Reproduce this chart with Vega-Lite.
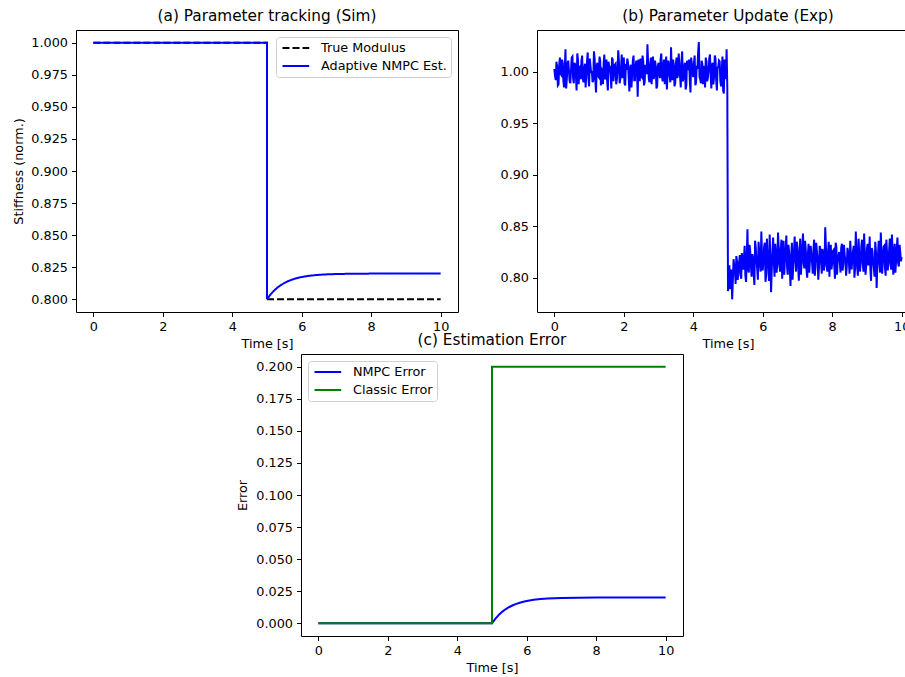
{
  "$schema": "https://vega.github.io/schema/vega-lite/v6.json",
  "background": "white",
  "padding": {"left": 12, "top": 8, "right": 0, "bottom": 0},
  "config": {
    "font": "DejaVu Sans",
    "view": {"stroke": "black", "strokeWidth": 1},
    "title": {"font": "DejaVu Sans", "fontSize": 15.3, "fontWeight": "normal", "color": "black", "offset": 6, "anchor": "middle"},
    "axis": {"domain": false, "grid": false, "ticks": true, "tickColor": "black", "tickSize": 4.5, "tickWidth": 1, "labelFont": "DejaVu Sans", "labelFontSize": 12.8, "labelColor": "black", "labelPadding": 3.5, "labelFlush": false, "labelOverlap": false, "titleFont": "DejaVu Sans", "titleFontSize": 12.8, "titleFontWeight": "normal", "titleColor": "black", "titlePadding": 5},
    "axisY": {"labelPadding": 4, "titlePadding": 5},
    "legend": {"fillColor": "white", "strokeColor": "#d0d0d0", "cornerRadius": 3, "padding": 4, "offset": 7, "labelFont": "DejaVu Sans", "labelFontSize": 12.8, "labelColor": "black", "symbolType": "M-0.75,0H3.7", "symbolSize": 144, "symbolStrokeWidth": 2, "rowPadding": 4, "labelOffset": 27}
  },
  "datasets": {
    "a": [
      {"s": "True Modulus", "o": 0, "t": 0, "v": 1.0},
      {"s": "True Modulus", "o": 1, "t": 5, "v": 1.0},
      {"s": "True Modulus", "o": 2, "t": 5, "v": 0.8},
      {"s": "True Modulus", "o": 3, "t": 10, "v": 0.8},
      {"s": "Adaptive NMPC Est.", "o": 0, "t": 0, "v": 1.0},
      {"s": "Adaptive NMPC Est.", "o": 1, "t": 5, "v": 1.0},
      {"s": "Adaptive NMPC Est.", "o": 2, "t": 5, "v": 0.8},
      {"s": "Adaptive NMPC Est.", "o": 3, "t": 5.1, "v": 0.80363},
      {"s": "Adaptive NMPC Est.", "o": 4, "t": 5.2, "v": 0.80659},
      {"s": "Adaptive NMPC Est.", "o": 5, "t": 5.3, "v": 0.80902},
      {"s": "Adaptive NMPC Est.", "o": 6, "t": 5.4, "v": 0.81101},
      {"s": "Adaptive NMPC Est.", "o": 7, "t": 5.5, "v": 0.81264},
      {"s": "Adaptive NMPC Est.", "o": 8, "t": 5.6, "v": 0.81398},
      {"s": "Adaptive NMPC Est.", "o": 9, "t": 5.7, "v": 0.81507},
      {"s": "Adaptive NMPC Est.", "o": 10, "t": 5.8, "v": 0.81596},
      {"s": "Adaptive NMPC Est.", "o": 11, "t": 5.9, "v": 0.81669},
      {"s": "Adaptive NMPC Est.", "o": 12, "t": 6.0, "v": 0.81729},
      {"s": "Adaptive NMPC Est.", "o": 13, "t": 6.2, "v": 0.81819},
      {"s": "Adaptive NMPC Est.", "o": 14, "t": 6.4, "v": 0.81878},
      {"s": "Adaptive NMPC Est.", "o": 15, "t": 6.6, "v": 0.81918},
      {"s": "Adaptive NMPC Est.", "o": 16, "t": 6.8, "v": 0.81945},
      {"s": "Adaptive NMPC Est.", "o": 17, "t": 7.0, "v": 0.81963},
      {"s": "Adaptive NMPC Est.", "o": 18, "t": 7.5, "v": 0.81987},
      {"s": "Adaptive NMPC Est.", "o": 19, "t": 8, "v": 0.81995},
      {"s": "Adaptive NMPC Est.", "o": 20, "t": 9, "v": 0.81999},
      {"s": "Adaptive NMPC Est.", "o": 21, "t": 10, "v": 0.82}
    ],
    "c": [
      {"s": "NMPC Error", "o": 0, "t": 0, "v": 0},
      {"s": "NMPC Error", "o": 1, "t": 5, "v": 0},
      {"s": "NMPC Error", "o": 2, "t": 5.1, "v": 0.00363},
      {"s": "NMPC Error", "o": 3, "t": 5.2, "v": 0.00659},
      {"s": "NMPC Error", "o": 4, "t": 5.3, "v": 0.00902},
      {"s": "NMPC Error", "o": 5, "t": 5.4, "v": 0.01101},
      {"s": "NMPC Error", "o": 6, "t": 5.5, "v": 0.01264},
      {"s": "NMPC Error", "o": 7, "t": 5.6, "v": 0.01398},
      {"s": "NMPC Error", "o": 8, "t": 5.7, "v": 0.01507},
      {"s": "NMPC Error", "o": 9, "t": 5.8, "v": 0.01596},
      {"s": "NMPC Error", "o": 10, "t": 5.9, "v": 0.01669},
      {"s": "NMPC Error", "o": 11, "t": 6.0, "v": 0.01729},
      {"s": "NMPC Error", "o": 12, "t": 6.2, "v": 0.01819},
      {"s": "NMPC Error", "o": 13, "t": 6.4, "v": 0.01878},
      {"s": "NMPC Error", "o": 14, "t": 6.6, "v": 0.01918},
      {"s": "NMPC Error", "o": 15, "t": 6.8, "v": 0.01945},
      {"s": "NMPC Error", "o": 16, "t": 7.0, "v": 0.01963},
      {"s": "NMPC Error", "o": 17, "t": 7.5, "v": 0.01987},
      {"s": "NMPC Error", "o": 18, "t": 8, "v": 0.01995},
      {"s": "NMPC Error", "o": 19, "t": 9, "v": 0.01999},
      {"s": "NMPC Error", "o": 20, "t": 10, "v": 0.02},
      {"s": "Classic Error", "o": 0, "t": 0, "v": 0},
      {"s": "Classic Error", "o": 1, "t": 5, "v": 0},
      {"s": "Classic Error", "o": 2, "t": 5, "v": 0.2},
      {"s": "Classic Error", "o": 3, "t": 10, "v": 0.2}
    ],
    "b": [
      {"t":0,"v":1.003},{"t":0.04,"v":0.992},{"t":0.08,"v":1.005},{"t":0.12,"v":0.988},{"t":0.16,"v":1.014},
      {"t":0.2,"v":0.997},{"t":0.24,"v":1.009},{"t":0.28,"v":0.985},{"t":0.32,"v":1.022},{"t":0.36,"v":0.994},
      {"t":0.4,"v":1.011},{"t":0.44,"v":0.991},{"t":0.48,"v":1.002},{"t":0.52,"v":1.015},{"t":0.56,"v":0.989},
      {"t":0.6,"v":1.007},{"t":0.64,"v":0.982},{"t":0.68,"v":1.012},{"t":0.72,"v":1.004},{"t":0.76,"v":0.993},
      {"t":0.8,"v":1.016},{"t":0.84,"v":0.990},{"t":0.88,"v":1.008},{"t":0.92,"v":0.998},{"t":0.96,"v":1.019},
      {"t":1.0,"v":0.986},{"t":1.04,"v":1.006},{"t":1.08,"v":1.001},{"t":1.12,"v":0.992},{"t":1.16,"v":1.013},
      {"t":1.2,"v":0.980},{"t":1.24,"v":1.009},{"t":1.28,"v":0.995},{"t":1.32,"v":1.011},{"t":1.36,"v":1.003},
      {"t":1.4,"v":0.988},{"t":1.44,"v":1.017},{"t":1.48,"v":0.996},{"t":1.52,"v":0.991},{"t":1.56,"v":1.010},
      {"t":1.6,"v":1.005},{"t":1.64,"v":0.984},{"t":1.68,"v":1.012},{"t":1.72,"v":0.999},{"t":1.76,"v":1.008},
      {"t":1.8,"v":0.993},{"t":1.84,"v":1.021},{"t":1.88,"v":0.989},{"t":1.92,"v":1.004},{"t":1.96,"v":0.994},
      {"t":2.0,"v":1.014},{"t":2.04,"v":0.987},{"t":2.08,"v":1.002},{"t":2.12,"v":1.009},{"t":2.16,"v":0.981},
      {"t":2.2,"v":1.007},{"t":2.24,"v":0.997},{"t":2.28,"v":1.016},{"t":2.32,"v":0.992},{"t":2.36,"v":1.011},
      {"t":2.4,"v":0.976},{"t":2.44,"v":1.006},{"t":2.48,"v":1.013},{"t":2.52,"v":0.995},{"t":2.56,"v":1.010},
      {"t":2.6,"v":0.990},{"t":2.64,"v":1.003},{"t":2.68,"v":1.027},{"t":2.72,"v":0.993},{"t":2.76,"v":1.008},
      {"t":2.8,"v":0.988},{"t":2.84,"v":1.015},{"t":2.88,"v":0.998},{"t":2.92,"v":1.005},{"t":2.96,"v":0.986},
      {"t":3.0,"v":1.009},{"t":3.04,"v":0.994},{"t":3.08,"v":1.018},{"t":3.12,"v":0.991},{"t":3.16,"v":1.012},
      {"t":3.2,"v":1.001},{"t":3.24,"v":0.983},{"t":3.28,"v":1.011},{"t":3.32,"v":0.996},{"t":3.36,"v":1.024},
      {"t":3.4,"v":0.992},{"t":3.44,"v":1.006},{"t":3.48,"v":0.989},{"t":3.52,"v":1.014},{"t":3.56,"v":0.997},
      {"t":3.6,"v":1.007},{"t":3.64,"v":0.985},{"t":3.68,"v":1.020},{"t":3.72,"v":0.994},{"t":3.76,"v":1.009},
      {"t":3.8,"v":0.987},{"t":3.84,"v":1.004},{"t":3.88,"v":1.012},{"t":3.92,"v":0.980},{"t":3.96,"v":1.008},
      {"t":4.0,"v":0.995},{"t":4.04,"v":1.016},{"t":4.08,"v":0.990},{"t":4.12,"v":1.003},{"t":4.16,"v":1.029},
      {"t":4.2,"v":0.993},{"t":4.24,"v":1.011},{"t":4.28,"v":0.988},{"t":4.32,"v":1.006},{"t":4.36,"v":1.014},
      {"t":4.4,"v":0.991},{"t":4.44,"v":1.002},{"t":4.48,"v":1.017},{"t":4.52,"v":0.984},{"t":4.56,"v":1.009},
      {"t":4.6,"v":0.996},{"t":4.64,"v":1.013},{"t":4.68,"v":0.982},{"t":4.72,"v":1.005},{"t":4.76,"v":1.010},
      {"t":4.8,"v":0.986},{"t":4.84,"v":1.015},{"t":4.88,"v":0.979},{"t":4.92,"v":1.008},{"t":4.96,"v":1.022},
      {"t":5.0,"v":0.787},{"t":5.04,"v":0.812},{"t":5.08,"v":0.795},{"t":5.12,"v":0.779},{"t":5.16,"v":0.818},
      {"t":5.2,"v":0.806},{"t":5.24,"v":0.821},{"t":5.28,"v":0.798},{"t":5.32,"v":0.815},{"t":5.36,"v":0.803},
      {"t":5.4,"v":0.824},{"t":5.44,"v":0.808},{"t":5.48,"v":0.831},{"t":5.52,"v":0.796},{"t":5.56,"v":0.847},
      {"t":5.6,"v":0.805},{"t":5.64,"v":0.826},{"t":5.68,"v":0.801},{"t":5.72,"v":0.819},{"t":5.76,"v":0.793},
      {"t":5.8,"v":0.829},{"t":5.84,"v":0.809},{"t":5.88,"v":0.835},{"t":5.92,"v":0.812},{"t":5.96,"v":0.845},
      {"t":6.0,"v":0.807},{"t":6.04,"v":0.830},{"t":6.08,"v":0.796},{"t":6.12,"v":0.838},{"t":6.16,"v":0.811},
      {"t":6.2,"v":0.842},{"t":6.24,"v":0.786},{"t":6.28,"v":0.826},{"t":6.32,"v":0.815},{"t":6.36,"v":0.833},
      {"t":6.4,"v":0.805},{"t":6.44,"v":0.844},{"t":6.48,"v":0.812},{"t":6.52,"v":0.828},{"t":6.56,"v":0.799},
      {"t":6.6,"v":0.836},{"t":6.64,"v":0.818},{"t":6.68,"v":0.841},{"t":6.72,"v":0.803},{"t":6.76,"v":0.825},
      {"t":6.8,"v":0.792},{"t":6.84,"v":0.834},{"t":6.88,"v":0.813},{"t":6.92,"v":0.840},{"t":6.96,"v":0.806},
      {"t":7.0,"v":0.829},{"t":7.04,"v":0.797},{"t":7.08,"v":0.838},{"t":7.12,"v":0.815},{"t":7.16,"v":0.843},
      {"t":7.2,"v":0.809},{"t":7.24,"v":0.827},{"t":7.28,"v":0.800},{"t":7.32,"v":0.833},{"t":7.36,"v":0.817},
      {"t":7.4,"v":0.823},{"t":7.44,"v":0.804},{"t":7.48,"v":0.837},{"t":7.52,"v":0.811},{"t":7.56,"v":0.826},
      {"t":7.6,"v":0.798},{"t":7.64,"v":0.831},{"t":7.68,"v":0.816},{"t":7.72,"v":0.828},{"t":7.76,"v":0.807},
      {"t":7.8,"v":0.849},{"t":7.84,"v":0.812},{"t":7.88,"v":0.824},{"t":7.92,"v":0.801},{"t":7.96,"v":0.832},
      {"t":8.0,"v":0.814},{"t":8.04,"v":0.827},{"t":8.08,"v":0.799},{"t":8.12,"v":0.830},{"t":8.16,"v":0.818},
      {"t":8.2,"v":0.825},{"t":8.24,"v":0.805},{"t":8.28,"v":0.833},{"t":8.32,"v":0.813},{"t":8.36,"v":0.822},
      {"t":8.4,"v":0.802},{"t":8.44,"v":0.829},{"t":8.48,"v":0.816},{"t":8.52,"v":0.836},{"t":8.56,"v":0.808},
      {"t":8.6,"v":0.826},{"t":8.64,"v":0.800},{"t":8.68,"v":0.845},{"t":8.72,"v":0.811},{"t":8.76,"v":0.838},
      {"t":8.8,"v":0.806},{"t":8.84,"v":0.831},{"t":8.88,"v":0.815},{"t":8.92,"v":0.843},{"t":8.96,"v":0.803},
      {"t":9.0,"v":0.828},{"t":9.04,"v":0.812},{"t":9.08,"v":0.840},{"t":9.12,"v":0.797},{"t":9.16,"v":0.826},
      {"t":9.2,"v":0.809},{"t":9.24,"v":0.835},{"t":9.28,"v":0.790},{"t":9.32,"v":0.823},{"t":9.36,"v":0.814},
      {"t":9.4,"v":0.844},{"t":9.44,"v":0.804},{"t":9.48,"v":0.830},{"t":9.52,"v":0.810},{"t":9.56,"v":0.837},
      {"t":9.6,"v":0.807},{"t":9.64,"v":0.827},{"t":9.68,"v":0.813},{"t":9.72,"v":0.842},{"t":9.76,"v":0.803},
      {"t":9.8,"v":0.833},{"t":9.84,"v":0.816},{"t":9.88,"v":0.839},{"t":9.92,"v":0.811},{"t":9.96,"v":0.825},
      {"t":10.0,"v":0.820},
      {"t":0.02,"v":0.996},{"t":0.06,"v":1.010},{"t":0.10,"v":0.987},{"t":0.14,"v":1.007},{"t":0.18,"v":0.998},
      {"t":0.22,"v":1.012},{"t":0.26,"v":0.991},{"t":0.30,"v":1.004},{"t":0.34,"v":0.984},{"t":0.38,"v":1.008},
      {"t":0.42,"v":1.001},{"t":0.46,"v":0.989},{"t":0.50,"v":1.014},{"t":0.54,"v":0.994},{"t":0.58,"v":1.009},
      {"t":0.62,"v":0.997},{"t":0.66,"v":1.018},{"t":0.70,"v":0.988},{"t":0.74,"v":1.005},{"t":0.78,"v":1.011},
      {"t":0.82,"v":0.993},{"t":0.86,"v":1.003},{"t":0.90,"v":0.985},{"t":0.94,"v":1.010},{"t":0.98,"v":0.995},
      {"t":1.02,"v":1.013},{"t":1.06,"v":0.999},{"t":1.10,"v":0.990},{"t":1.14,"v":1.020},{"t":1.18,"v":0.992},
      {"t":1.22,"v":1.006},{"t":1.26,"v":0.996},{"t":1.30,"v":1.015},{"t":1.34,"v":0.987},{"t":1.38,"v":1.002},
      {"t":1.42,"v":1.009},{"t":1.46,"v":0.993},{"t":1.50,"v":1.012},{"t":1.54,"v":0.982},{"t":1.58,"v":1.005},
      {"t":1.62,"v":0.997},{"t":1.66,"v":1.014},{"t":1.70,"v":0.991},{"t":1.74,"v":1.007},{"t":1.78,"v":0.988},
      {"t":1.82,"v":1.003},{"t":1.86,"v":1.010},{"t":1.90,"v":0.994},{"t":1.94,"v":1.017},{"t":1.98,"v":0.998},
      {"t":2.02,"v":0.989},{"t":2.06,"v":1.008},{"t":2.10,"v":1.013},{"t":2.14,"v":0.995},{"t":2.18,"v":1.004},
      {"t":2.22,"v":0.985},{"t":2.26,"v":1.011},{"t":2.30,"v":0.992},{"t":2.34,"v":1.006},{"t":2.38,"v":1.001},
      {"t":2.42,"v":1.012},{"t":2.46,"v":0.991},{"t":2.50,"v":0.996},{"t":2.54,"v":1.016},{"t":2.58,"v":0.987},
      {"t":2.62,"v":1.007},{"t":2.66,"v":0.998},{"t":2.70,"v":1.009},{"t":2.74,"v":0.990},{"t":2.78,"v":1.014},
      {"t":2.82,"v":1.003},{"t":2.86,"v":0.993},{"t":2.90,"v":1.011},{"t":2.94,"v":0.984},{"t":2.98,"v":1.006},
      {"t":3.02,"v":0.999},{"t":3.06,"v":1.013},{"t":3.10,"v":0.995},{"t":3.14,"v":1.008},{"t":3.18,"v":0.988},
      {"t":3.22,"v":1.015},{"t":3.26,"v":0.997},{"t":3.30,"v":1.007},{"t":3.34,"v":0.990},{"t":3.38,"v":1.002},
      {"t":3.42,"v":1.012},{"t":3.46,"v":0.986},{"t":3.50,"v":1.009},{"t":3.54,"v":0.994},{"t":3.58,"v":1.018},
      {"t":3.62,"v":0.996},{"t":3.66,"v":1.010},{"t":3.70,"v":0.991},{"t":3.74,"v":1.005},{"t":3.78,"v":0.983},
      {"t":3.82,"v":1.011},{"t":3.86,"v":1.003},{"t":3.90,"v":0.992},{"t":3.94,"v":1.014},{"t":3.98,"v":0.998},
      {"t":4.02,"v":1.009},{"t":4.06,"v":0.987},{"t":4.10,"v":1.006},{"t":4.14,"v":1.019},{"t":4.18,"v":0.995},
      {"t":4.22,"v":0.989},{"t":4.26,"v":1.008},{"t":4.30,"v":1.002},{"t":4.34,"v":0.985},{"t":4.38,"v":1.010},
      {"t":4.42,"v":0.994},{"t":4.46,"v":1.013},{"t":4.50,"v":0.997},{"t":4.54,"v":1.007},{"t":4.58,"v":0.988},
      {"t":4.62,"v":1.016},{"t":4.66,"v":0.992},{"t":4.70,"v":1.004},{"t":4.74,"v":1.011},{"t":4.78,"v":0.991},
      {"t":4.82,"v":1.001},{"t":4.86,"v":0.982},{"t":4.90,"v":1.012},{"t":4.94,"v":0.993},{"t":4.98,"v":0.985},
      {"t":5.02,"v":0.802},{"t":5.06,"v":0.789},{"t":5.10,"v":0.808},{"t":5.14,"v":0.797},{"t":5.18,"v":0.812},
      {"t":5.22,"v":0.794},{"t":5.26,"v":0.816},{"t":5.30,"v":0.806},{"t":5.34,"v":0.822},{"t":5.38,"v":0.799},
      {"t":5.42,"v":0.813},{"t":5.46,"v":0.820},{"t":5.50,"v":0.802},{"t":5.54,"v":0.818},{"t":5.58,"v":0.809},
      {"t":5.62,"v":0.832},{"t":5.66,"v":0.811},{"t":5.70,"v":0.823},{"t":5.74,"v":0.804},{"t":5.78,"v":0.836},
      {"t":5.82,"v":0.817},{"t":5.86,"v":0.798},{"t":5.90,"v":0.825},{"t":5.94,"v":0.806},{"t":5.98,"v":0.821},
      {"t":6.02,"v":0.815},{"t":6.06,"v":0.834},{"t":6.10,"v":0.803},{"t":6.14,"v":0.822},{"t":6.18,"v":0.797},
      {"t":6.22,"v":0.819},{"t":6.26,"v":0.808},{"t":6.30,"v":0.839},{"t":6.34,"v":0.801},{"t":6.38,"v":0.824},
      {"t":6.42,"v":0.814},{"t":6.46,"v":0.829},{"t":6.50,"v":0.806},{"t":6.54,"v":0.837},{"t":6.58,"v":0.816},
      {"t":6.62,"v":0.803},{"t":6.66,"v":0.827},{"t":6.70,"v":0.811},{"t":6.74,"v":0.832},{"t":6.78,"v":0.809},
      {"t":6.82,"v":0.821},{"t":6.86,"v":0.798},{"t":6.90,"v":0.826},{"t":6.94,"v":0.817},{"t":6.98,"v":0.835},
      {"t":7.02,"v":0.812},{"t":7.06,"v":0.824},{"t":7.10,"v":0.803},{"t":7.14,"v":0.829},{"t":7.18,"v":0.814},
      {"t":7.22,"v":0.836},{"t":7.26,"v":0.808},{"t":7.30,"v":0.822},{"t":7.34,"v":0.805},{"t":7.38,"v":0.831},
      {"t":7.42,"v":0.815},{"t":7.46,"v":0.827},{"t":7.50,"v":0.802},{"t":7.54,"v":0.834},{"t":7.58,"v":0.818},
      {"t":7.62,"v":0.810},{"t":7.66,"v":0.828},{"t":7.70,"v":0.804},{"t":7.74,"v":0.823},{"t":7.78,"v":0.813},
      {"t":7.82,"v":0.830},{"t":7.86,"v":0.806},{"t":7.90,"v":0.835},{"t":7.94,"v":0.819},{"t":7.98,"v":0.808},
      {"t":8.02,"v":0.826},{"t":8.06,"v":0.812},{"t":8.10,"v":0.834},{"t":8.14,"v":0.803},{"t":8.18,"v":0.821},
      {"t":8.22,"v":0.815},{"t":8.26,"v":0.829},{"t":8.30,"v":0.807},{"t":8.34,"v":0.832},{"t":8.38,"v":0.817},
      {"t":8.42,"v":0.811},{"t":8.46,"v":0.825},{"t":8.50,"v":0.804},{"t":8.54,"v":0.822},{"t":8.58,"v":0.818},
      {"t":8.62,"v":0.831},{"t":8.66,"v":0.809},{"t":8.70,"v":0.826},{"t":8.74,"v":0.802},{"t":8.78,"v":0.821},
      {"t":8.82,"v":0.814},{"t":8.86,"v":0.837},{"t":8.90,"v":0.806},{"t":8.94,"v":0.823},{"t":8.98,"v":0.811},
      {"t":9.02,"v":0.833},{"t":9.06,"v":0.817},{"t":9.10,"v":0.808},{"t":9.14,"v":0.829},{"t":9.18,"v":0.815},
      {"t":9.22,"v":0.801},{"t":9.26,"v":0.826},{"t":9.30,"v":0.812},{"t":9.34,"v":0.836},{"t":9.38,"v":0.805},
      {"t":9.42,"v":0.822},{"t":9.46,"v":0.817},{"t":9.50,"v":0.831},{"t":9.54,"v":0.802},{"t":9.58,"v":0.824},
      {"t":9.62,"v":0.815},{"t":9.66,"v":0.838},{"t":9.70,"v":0.808},{"t":9.74,"v":0.826},{"t":9.78,"v":0.819},
      {"t":9.82,"v":0.805},{"t":9.86,"v":0.829},{"t":9.90,"v":0.814},{"t":9.94,"v":0.832},{"t":9.98,"v":0.816}
    ]
  },
  "resolve": {"scale": {"color": "independent", "strokeDash": "independent"}, "legend": {"color": "independent", "strokeDash": "independent"}},
  "spacing": -20,
  "vconcat": [
    {
      "spacing": 40,
      "resolve": {"scale": {"color": "independent", "strokeDash": "independent"}, "legend": {"color": "independent", "strokeDash": "independent"}},
      "hconcat": [
        {
          "width": 382, "height": 282,
          "title": "(a) Parameter tracking (Sim)",
          "data": {"name": "a"},
          "encoding": {
            "x": {"field": "t", "type": "quantitative", "scale": {"domain": [-0.5, 10.5], "nice": false, "zero": false}, "axis": {"values": [0, 2, 4, 6, 8, 10], "format": "d", "title": "Time [s]"}},
            "y": {"field": "v", "type": "quantitative", "scale": {"domain": [0.79, 1.01], "nice": false, "zero": false}, "axis": {"values": [0.8, 0.825, 0.85, 0.875, 0.9, 0.925, 0.95, 0.975, 1.0], "format": ".3f", "title": "Stiffness (norm.)"}},
            "color": {"field": "s", "type": "nominal", "scale": {"domain": ["True Modulus", "Adaptive NMPC Est."], "range": ["black", "blue"]}, "legend": {"orient": "top-right", "title": null}},
            "strokeDash": {"field": "s", "type": "nominal", "scale": {"domain": ["True Modulus", "Adaptive NMPC Est."], "range": [[7, 3], [1, 0]]}, "legend": {"orient": "top-right", "title": null}},
            "order": {"field": "o", "type": "quantitative"}
          },
          "layer": [
            {"transform": [{"filter": "datum.s === 'True Modulus'"}], "mark": {"type": "line", "strokeWidth": 2}},
            {"transform": [{"filter": "datum.s === 'Adaptive NMPC Est.'"}], "mark": {"type": "line", "strokeWidth": 2}}
          ]
        },
        {
          "width": 382, "height": 282,
          "title": "(b) Parameter Update (Exp)",
          "data": {"name": "b"},
          "mark": {"type": "line", "strokeWidth": 2, "color": "blue"},
          "encoding": {
            "x": {"field": "t", "type": "quantitative", "scale": {"domain": [-0.5, 10.5], "nice": false, "zero": false}, "axis": {"values": [0, 2, 4, 6, 8, 10], "format": "d", "title": "Time [s]"}},
            "y": {"field": "v", "type": "quantitative", "scale": {"domain": [0.7667, 1.0408], "nice": false, "zero": false}, "axis": {"values": [0.8, 0.85, 0.9, 0.95, 1.0], "format": ".2f", "title": null}}
          }
        }
      ]
    },
    {
      "spacing": 0,
      "resolve": {"scale": {"color": "independent", "strokeDash": "independent"}, "legend": {"color": "independent", "strokeDash": "independent"}},
      "hconcat": [
        {
          "width": 160, "height": 10,
          "view": {"stroke": null},
          "data": {"values": [{"k": 1}]},
          "mark": {"type": "point", "opacity": 0},
          "encoding": {}
        },
        {
          "width": 382, "height": 282,
          "title": "(c) Estimation Error",
          "data": {"name": "c"},
          "encoding": {
            "x": {"field": "t", "type": "quantitative", "scale": {"domain": [-0.5, 10.5], "nice": false, "zero": false}, "axis": {"values": [0, 2, 4, 6, 8, 10], "format": "d", "title": "Time [s]"}},
            "y": {"field": "v", "type": "quantitative", "scale": {"domain": [-0.01, 0.21], "nice": false, "zero": false}, "axis": {"values": [0, 0.025, 0.05, 0.075, 0.1, 0.125, 0.15, 0.175, 0.2], "format": ".3f", "title": "Error", "titlePadding": 6}},
            "color": {"field": "s", "type": "nominal", "scale": {"domain": ["NMPC Error", "Classic Error"], "range": ["blue", "green"]}, "legend": {"orient": "top-left", "title": null}},
            "order": {"field": "o", "type": "quantitative"}
          },
          "layer": [
            {"transform": [{"filter": "datum.s === 'NMPC Error'"}], "mark": {"type": "line", "strokeWidth": 2}},
            {"transform": [{"filter": "datum.s === 'Classic Error'"}], "mark": {"type": "line", "strokeWidth": 2}}
          ]
        }
      ]
    }
  ]
}
